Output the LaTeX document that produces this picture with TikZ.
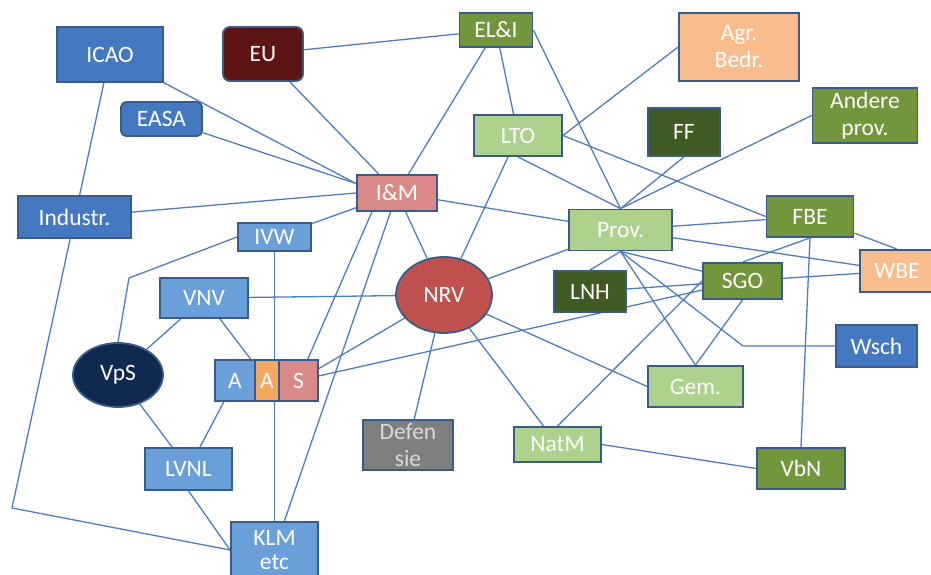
\documentclass[tikz,border=0pt]{standalone}
\usepackage{fontspec}
\setmainfont{Carlito}
\usetikzlibrary{backgrounds,shapes.geometric}
\definecolor{cBlue}{HTML}{4479C2}
\definecolor{cLBlue}{HTML}{6A9FDA}
\definecolor{cMaroon}{HTML}{5C1414}
\definecolor{cPink}{HTML}{D98987}
\definecolor{cRed}{HTML}{C0504D}
\definecolor{cNavy}{HTML}{10294F}
\definecolor{cOrange}{HTML}{F4A862}
\definecolor{cPeach}{HTML}{F9BD8D}
\definecolor{cGray}{HTML}{7F7F7F}
\definecolor{cLGreen}{HTML}{AFD18E}
\definecolor{cGreen}{HTML}{73953C}
\definecolor{cDGreen}{HTML}{3F5A22}
\definecolor{cEdge}{HTML}{385D8A}
\definecolor{cLine}{HTML}{4F7DBF}
\newcommand\dgfont{\fontsize{23.5}{27}\selectfont}
\begin{document}
\begin{tikzpicture}[x=1pt,y=-1pt,
  box/.style={draw=cEdge, line width=1.8pt, rectangle, inner sep=0pt, text=white, align=center, font=\dgfont},
  oval/.style={draw=cEdge, line width=1.8pt, ellipse, inner sep=0pt, text=white, align=center, font=\dgfont},
  conn/.style={draw=cLine, line width=1.3pt, line join=round}]
\useasboundingbox (0,0) rectangle (931,575);
% nodes
\node[box, fill=cBlue, minimum width=106pt, minimum height=55pt] (icao) at (110,54.5) {ICAO};
\node[box, fill=cMaroon, rounded corners=7pt, minimum width=80pt, minimum height=54pt] (eu) at (263,54) {EU};
\node[box, fill=cBlue, rounded corners=5pt, minimum width=81pt, minimum height=34pt] (easa) at (161.5,119) {EASA};
\node[box, fill=cBlue, minimum width=113pt, minimum height=42pt] (industr) at (74.5,217) {Industr.};
\node[box, fill=cPink, minimum width=80pt, minimum height=36pt] (im) at (397,193) {I\&M};
\node[box, fill=cLBlue, minimum width=73pt, minimum height=28pt] (ivw) at (274.5,237) {IVW};
\node[box, fill=cLBlue, minimum width=88pt, minimum height=40pt] (vnv) at (204,298) {VNV};
\node[oval, fill=cNavy, minimum width=90pt, minimum height=64pt] (vps) at (118,375) {VpS};
\node[box, fill=cLBlue, minimum width=40pt, minimum height=41pt] (a1) at (235,380.5) {A};
\node[box, fill=cOrange, minimum width=24pt, minimum height=41pt] (a2) at (267,380.5) {A};
\node[box, fill=cPink, minimum width=39pt, minimum height=41pt] (s3) at (298.5,380.5) {S};
\node[box, fill=cLBlue, minimum width=87pt, minimum height=42pt] (lvnl) at (188.5,469) {LVNL};
\node[box, fill=cLBlue, minimum width=87pt, minimum height=56pt, font=\fontsize{23.5}{24}\selectfont] (klm) at (274.5,550) {KLM\\etc};
\node[oval, fill=cRed, minimum width=96pt, minimum height=76pt] (nrv) at (444,295) {NRV};
\node[box, fill=cGray, text=black!15, minimum width=90pt, minimum height=50pt] (def) at (408,445) {Defen\\sie};
\node[box, fill=cLGreen, minimum width=87pt, minimum height=35pt] (natm) at (557.5,444.5) {NatM};
\node[box, fill=cLGreen, minimum width=95pt, minimum height=41pt] (gem) at (695.5,386.5) {Gem.};
\node[box, fill=cGreen, minimum width=88pt, minimum height=41pt] (vbn) at (801,468.5) {VbN};
\node[box, fill=cBlue, minimum width=81pt, minimum height=42pt] (wsch) at (876.5,346) {Wsch};
\node[box, fill=cGreen, minimum width=79pt, minimum height=36pt] (sgo) at (742.5,281) {SGO};
\node[box, fill=cDGreen, minimum width=72pt, minimum height=41pt] (lnh) at (590,291.5) {LNH};
\node[box, fill=cLGreen, minimum width=103pt, minimum height=41pt] (prov) at (620.5,230) {Prov.};
\node[box, fill=cGreen, minimum width=87pt, minimum height=41pt] (fbe) at (810,216.5) {FBE};
\node[box, fill=cPeach, minimum width=74pt, minimum height=42pt] (wbe) at (897,271) {WBE};
\node[box, fill=cLGreen, minimum width=88pt, minimum height=41pt] (lto) at (518,135.5) {LTO};
\node[box, fill=cDGreen, minimum width=72pt, minimum height=48pt] (ff) at (684,132) {FF};
\node[box, fill=cGreen, minimum width=73pt, minimum height=34pt] (eli) at (496,30) {EL\&I};
\node[box, fill=cPeach, minimum width=120pt, minimum height=68pt] (agr) at (739,47) {Agr.\\Bedr.};
\node[box, fill=cGreen, minimum width=105pt, minimum height=55pt] (andere) at (865,115.5) {Andere\\prov.};
\coordinate (b1) at (12,508);
\coordinate (b2) at (129,278);
\coordinate (b3) at (743,346);
% connectors
\begin{scope}[on background layer]
\fill[white] (0,0) rectangle (931,575);
\draw[conn] (icao) -- (im.167);
\draw[conn] (icao) -- (b1) -- (klm.west);
\draw[conn] (eu) -- (eli);
\draw[conn] (eu) -- (im);
\draw[conn] (easa) -- (im.167);
\draw[conn] (industr) -- (im.west);
\draw[conn] (im) -- (ivw);
\draw[conn] (ivw.west) -- (b2) -- (vps.north);
\draw[conn] (ivw) -- (klm);
\draw[conn] (vnv) -- (nrv);
\draw[conn] (vnv) -- (vps);
\draw[conn] (vnv) -- (a2);
\draw[conn] (vps) -- (lvnl);
\draw[conn] (a1) -- (lvnl);
\draw[conn] (lvnl.south) -- (klm.west);
\draw[conn] (im.217) -- (s3);
\draw[conn] (im) -- (klm);
\draw[conn] (im) -- (nrv);
\draw[conn] (nrv) -- (s3);
\draw[conn] (s3) -- (sgo);
\draw[conn] (nrv) -- (def);
\draw[conn] (nrv) -- (natm);
\draw[conn] (nrv) -- (gem.west);
\draw[conn] (nrv) -- (lto);
\draw[conn] (nrv) -- (prov);
\draw[conn] (eli) -- (im);
\draw[conn] (eli) -- (lto);
\draw[conn] (eli.east) -- (prov.north);
\draw[conn] (im) -- (prov);
\draw[conn] (lto.east) -- (agr.west);
\draw[conn] (lto.south) -- (prov.north);
\draw[conn] (lto.east) -- (fbe.west);
\draw[conn] (ff.south) -- (prov.north);
\draw[conn] (andere.west) -- (prov.north);
\draw[conn] (prov) -- (fbe);
\draw[conn] (prov) -- (wbe);
\draw[conn] (fbe) -- (wbe.north);
\draw[conn] (fbe.south) -- (sgo.north);
\draw[conn] (fbe.south) -- (vbn.north);
\draw[conn] (sgo) -- (wbe);
\draw[conn] (lnh) -- (sgo);
\draw[conn] (prov.south) -- (lnh.north);
\draw[conn] (prov.south) -- (sgo);
\draw[conn] (prov.south) -- (gem.north);
\draw[conn] (prov.south) -- (b3) -- (wsch);
\draw[conn] (natm.north) -- (sgo.west);
\draw[conn] (sgo.south) -- (gem.north);
\draw[conn] (natm.east) -- (vbn.west);
\end{scope}
\end{tikzpicture}
\end{document}
